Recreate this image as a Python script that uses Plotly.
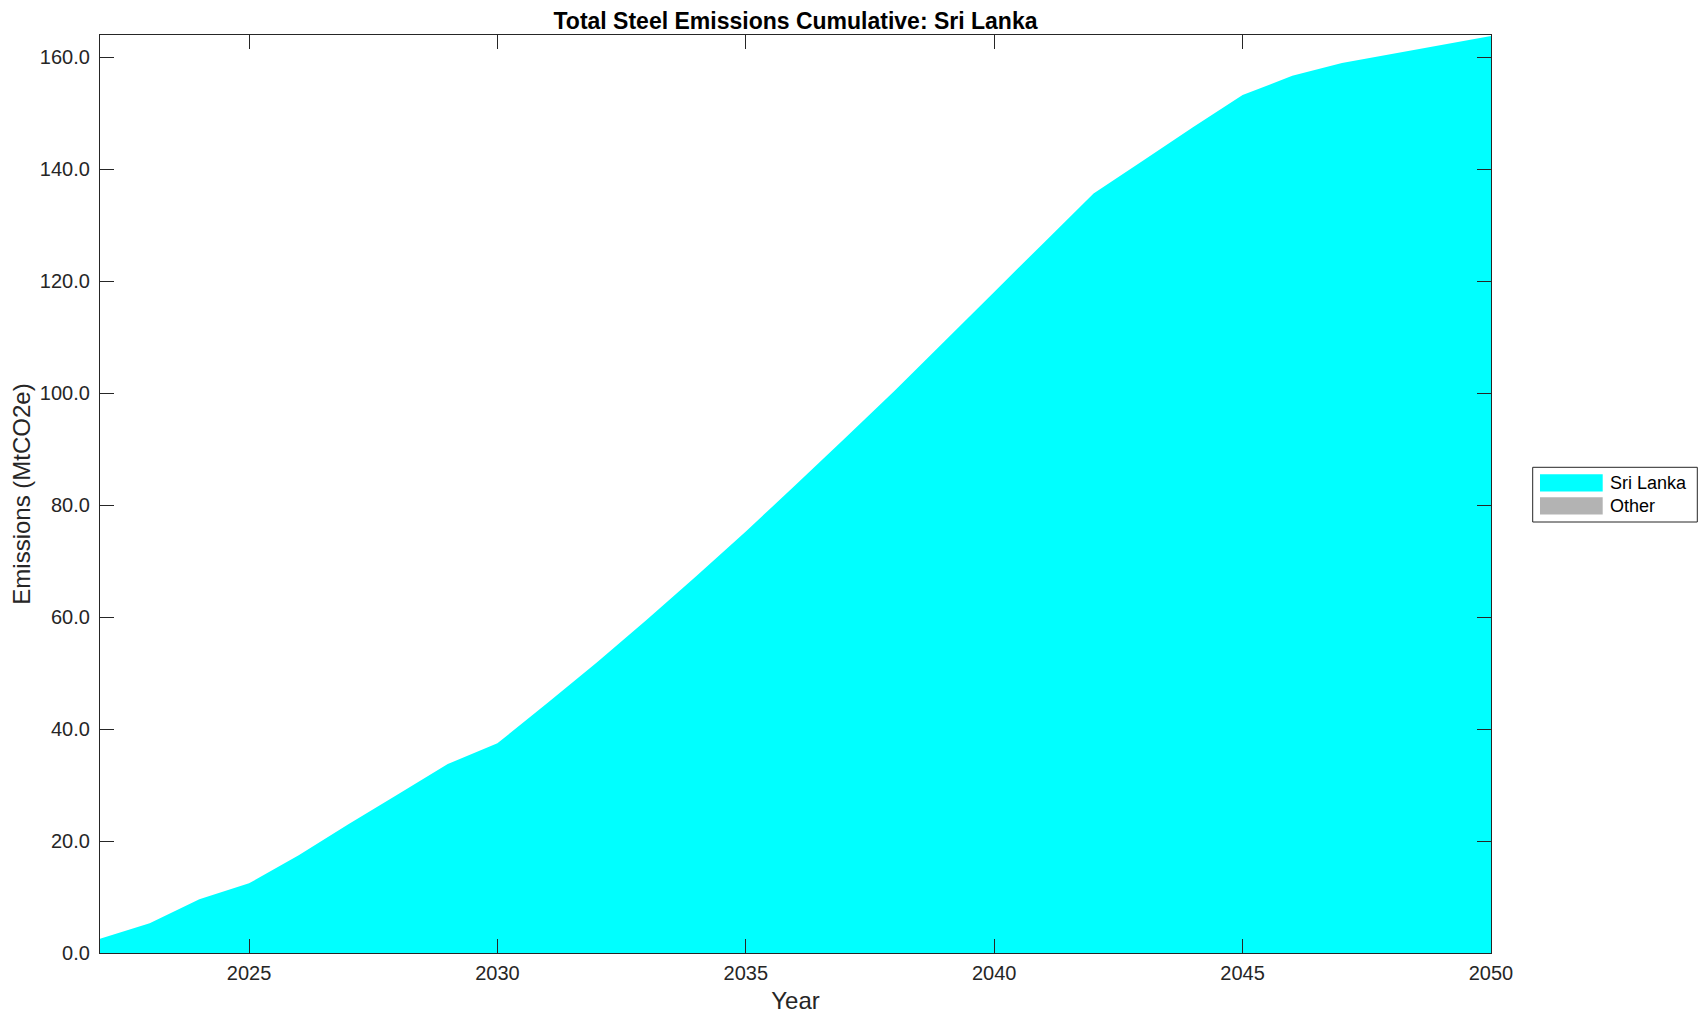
import plotly.graph_objects as go

years = list(range(2022, 2051))
sri_lanka = [2.55, 5.3, 9.6, 12.45, 17.45, 23.0, 28.35, 33.76, 37.46, 44.6,
             51.9, 59.5, 67.3, 75.3, 83.6, 92.0, 100.5, 109.3, 118.1, 126.9,
             135.7, 141.6, 147.5, 153.3, 156.7, 159.0, 160.6, 162.2, 163.8]
other = [0.0] * len(years)
x_ticks = [2025, 2030, 2035, 2040, 2045, 2050]
y_ticks = [0, 20, 40, 60, 80, 100, 120, 140, 160]
series_names = ["Sri Lanka", "Other"]
series_colors = ["#00FFFF", "#B3B3B3"]

FONT = "Liberation Sans, Arial, Helvetica, sans-serif"
AXC = "#262626"
OFF = 8  # default page body margin
W, H = 1708 - OFF, 1021 - OFF
L, T = 100 - OFF, 35 - OFF
PW, PH = 1391, 918
R, B = W - L - PW, H - T - PH


def px_x(p):
    # p: x position in screenshot pixels
    return (p - OFF - L) / PW


def px_y(p):
    # p: y position in screenshot pixels
    return (T + PH - (p - OFF)) / PH


fig = go.Figure()
for name, vals, col in zip(series_names, [sri_lanka, other], series_colors):
    fig.add_trace(go.Scatter(x=years, y=vals, name=name, mode="none",
                             stackgroup="one", fillcolor=col,
                             line=dict(width=0), showlegend=False))

axis_common = dict(showline=True, linecolor=AXC, linewidth=1.3, mirror="ticks",
                   ticks="inside", ticklen=14, tickwidth=1, tickcolor=AXC,
                   showgrid=False, zeroline=False, automargin=False,
                   tickfont=dict(family=FONT, size=20, color=AXC))

# legend drawn manually (box + swatches + labels)
shapes = [dict(type="rect", xref="paper", yref="paper",
               x0=px_x(1532.7), x1=px_x(1697.3), y0=px_y(522), y1=px_y(467.3),
               line=dict(color=AXC, width=1), fillcolor="white", layer="above")]
annotations = []
sw_tops = [474.3, 497.3]
for name, col, top in zip(series_names, series_colors, sw_tops):
    shapes.append(dict(type="rect", xref="paper", yref="paper",
                       x0=px_x(1540), x1=px_x(1602.7),
                       y0=px_y(top + 17.2), y1=px_y(top),
                       line=dict(width=0), fillcolor=col, layer="above"))
    annotations.append(dict(text=name, xref="paper", yref="paper",
                            x=px_x(1607.5), y=px_y(top + 9.0),
                            xanchor="left", yanchor="middle", showarrow=False,
                            font=dict(family=FONT, size=18, color="black")))

fig.update_layout(
    width=W, height=H,
    margin=dict(l=L, r=R, t=T, b=B, autoexpand=False),
    paper_bgcolor="white", plot_bgcolor="white",
    title=dict(text="<b>Total Steel Emissions Cumulative: Sri Lanka</b>",
               x=0.5, xref="paper", xanchor="center",
               y=1 - 12.5 / H, yref="container", yanchor="middle",
               font=dict(family=FONT, size=23, color="black")),
    xaxis=dict(range=[2022, 2050], tickvals=x_ticks, ticklabelstandoff=2,
               title=dict(text="Year", standoff=9,
                          font=dict(family=FONT, size=24, color=AXC)),
               **axis_common),
    yaxis=dict(range=[0, 164], tickvals=y_ticks, tickformat=".1f",
               ticklabelstandoff=5,
               title=dict(text="Emissions (MtCO2e)", standoff=8,
                          font=dict(family=FONT, size=24, color=AXC)),
               **axis_common),
    shapes=shapes,
    annotations=annotations,
    showlegend=False,
)

fig.write_html("out.html")
